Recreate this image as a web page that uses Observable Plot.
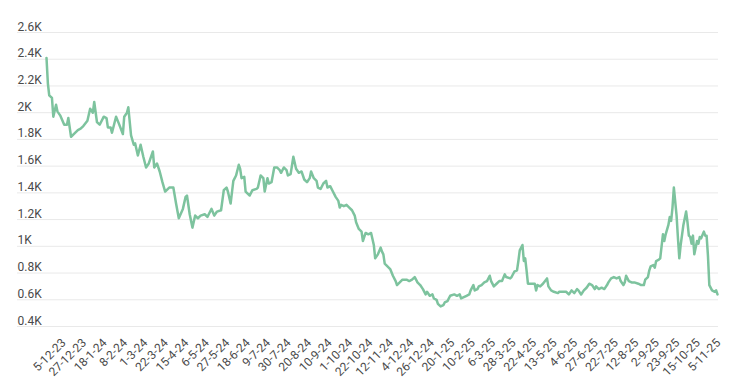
<!DOCTYPE html>
<html>
<head>
<meta charset="utf-8">
<script src="https://cdn.jsdelivr.net/npm/d3@7"></script>
<script src="https://cdn.jsdelivr.net/npm/@observablehq/plot@0.6"></script>
<style>
  html, body { margin: 0; padding: 0; background: #fff; }
  #chart { width: 730px; height: 385px; }
</style>
</head>
<body>
<div id="chart"></div>
<script>
// x-axis tick labels (every 15th trading day)
const tickLabels = ["5-12-23","27-12-23","18-1-24","8-2-24","1-3-24","22-3-24","15-4-24","6-5-24","27-5-24","18-6-24","9-7-24","30-7-24","20-8-24","10-9-24","1-10-24","22-10-24","12-11-24","4-12-24","26-12-24","20-1-25","10-2-25","6-3-25","28-3-25","22-4-25","13-5-25","4-6-25","27-6-25","22-7-25","12-8-25","2-9-25","23-9-25","15-10-25","5-11-25"];
const ticksEvery = 15;

// y-axis ticks
const yTicks = [400, 600, 800, 1000, 1200, 1400, 1600, 1800, 2000, 2200, 2400, 2600];

// trading-day number (since 5-12-23) and value
const day = [0,1,2,4,5,7,8,10,13,15,16,18,20,23,25,27,30,32,34,35,37,39,42,44,45,47,48,51,53,56,57,59,60,62,64,65,67,69,71,73,75,78,79,
81,83,85,87,90,93,95,97,100,102,103,105,107,109,111,113,116,118,119,121,123,125,128,130,132,133,135,137,139,141,142,143,145,146,149,151,154,155,157,159,160,162,163,165,
167,169,171,172,174,176,177,179,181,183,185,187,189,191,193,194,196,198,199,201,203,205,206,208,210,212,214,215,216,218,220,222,224,226,227,229,231,232,233,234,236,238,240,241,
243,245,246,247,248,250,252,254,256,257,259,261,264,266,268,270,272,274,276,278,279,281,283,284,286,287,289,291,292,294,296,299,301,303,304,306,308,310,311,313,314,316,317,319,321,323,
325,326,328,330,332,334,336,337,340,341,343,345,346,347,349,350,351,352,353,356,358,359,360,362,364,367,368,370,372,375,376,379,381,383,385,387,389,390,392,394,396,398,400,402,403,
405,407,409,411,412,414,416,418,420,421,423,424,425,427,429,431,434,436,438,439,441,442,443,445,446,447,449,450,452,453,454,456,457,458,459,460,462,463,464,465,467,469,470,471,472,473,474,475,477,478,479,480,482,483,484,485,486,488,490,491,492];

const price = [2410,2220,2130,2110,1970,2060,2010,1980,1910,1910,1960,1820,1840,1870,1880,1900,1940,2030,2000,2080,1930,1910,1970,1960,1890,1890,1850,1970,1920,1840,1970,2000,2040,1830,1760,1770,1680,1760,1670,1590,1620,1710,1590,
1620,1560,1480,1410,1440,1440,1320,1210,1280,1370,1380,1240,1140,1230,1210,1230,1240,1220,1240,1280,1230,1260,1270,1420,1440,1410,1320,1490,1530,1610,1580,1510,1520,1410,1380,1420,1430,1440,1530,1510,1410,1510,1470,1480,
1590,1590,1570,1550,1590,1570,1530,1540,1670,1580,1550,1560,1500,1480,1510,1560,1510,1490,1440,1430,1470,1490,1440,1450,1410,1370,1340,1290,1310,1300,1310,1290,1270,1230,1180,1130,1110,1040,1070,1100,1090,1100,1010,910,
940,990,960,940,870,850,830,780,740,710,730,750,750,740,750,770,730,710,680,640,660,630,640,610,600,570,550,560,580,590,630,640,630,640,610,620,630,640,670,710,670,680,700,710,730,740,
780,740,700,720,740,740,790,770,760,770,810,820,890,970,1010,890,910,820,720,720,720,670,710,700,720,760,700,670,660,650,660,660,660,640,670,650,680,670,640,670,690,720,710,680,700,
680,690,680,710,730,760,770,760,770,740,710,730,780,740,730,730,720,710,710,750,770,820,850,860,840,890,900,910,1090,1040,1090,1160,1220,1190,1290,1440,1230,1060,910,1010,1160,1260,1180,1080,1070,1020,1080,940,1040,1020,1070,1060,1110,1080,1080,930,710,670,660,670,640];

const data = day.map((d, i) => ({day: d, price: price[i]}));
const tickDays = tickLabels.map((_, i) => i * ticksEvery);
const fmtK = v => (v / 1000) + "K";

const chart = Plot.plot({
  width: 730,
  height: 385,
  marginTop: 32,
  marginBottom: 59,
  marginLeft: 17,
  marginRight: 12,
  style: {fontFamily: "Roboto, 'Noto Sans', sans-serif", background: "#fff", color: "#4a4a4a"},
  x: {type: "linear", domain: [0, 492], insetLeft: 29, insetRight: 1, label: null},
  y: {domain: [400, 2600], label: null},
  marks: [
    Plot.gridY(yTicks, {stroke: "#e9e9e9", strokeOpacity: 1, strokeWidth: 1}),
    Plot.axisY(yTicks, {anchor: "left", label: null, tickSize: 0, tickPadding: 0, textAnchor: "start", lineAnchor: "bottom", dy: -2, tickFormat: fmtK, fontSize: 12, fill: "#4a4a4a"}),
    Plot.axisX(tickDays, {anchor: "bottom", label: null, tickSize: 0, tickPadding: 11, tickRotate: -45, textAnchor: "end", lineAnchor: "top", dx: 14, tickFormat: d => tickLabels[d / ticksEvery], fontSize: 12, fill: "#4a4a4a"}),
    Plot.lineY(data, {x: "day", y: "price", stroke: "#7dc39e", strokeWidth: 2.5, strokeLinejoin: "round", strokeLinecap: "round"})
  ]
});
document.getElementById("chart").appendChild(chart);
</script>
</body>
</html>
